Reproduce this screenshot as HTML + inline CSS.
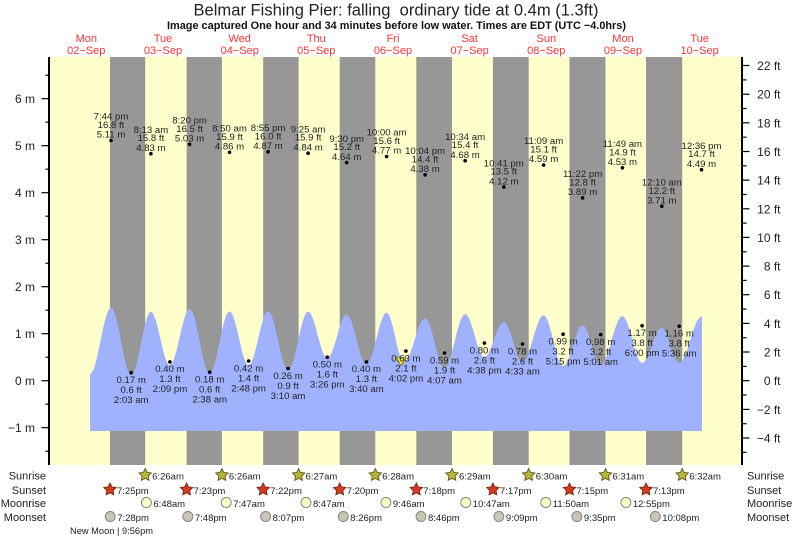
<!DOCTYPE html>
<html><head><meta charset="utf-8"><style>
html,body{margin:0;padding:0;background:#fff;}
svg{display:block;font-family:"Liberation Sans",Arial,sans-serif;}
</style></head><body>
<svg width="793" height="539" viewBox="0 0 793 539" xmlns="http://www.w3.org/2000/svg">
<rect x="0" y="0" width="793" height="539" fill="#fff"/>
<!-- title -->
<text x="396" y="15.5" font-size="16.5" fill="#222" text-anchor="middle" textLength="405" lengthAdjust="spacingAndGlyphs">Belmar Fishing Pier: falling&#160; ordinary tide at 0.4m (1.3ft)</text>
<text x="396.5" y="29" font-size="11" font-weight="bold" fill="#111" text-anchor="middle" textLength="459" lengthAdjust="spacingAndGlyphs">Image captured One hour and 34 minutes before low water. Times are EDT (UTC −4.0hrs)</text>
<!-- day labels -->
<g font-size="11" fill="#ff3333" text-anchor="middle">
<text x="86.3" y="42">Mon</text><text x="86.3" y="54">02−Sep</text>
<text x="163" y="42">Tue</text><text x="163" y="54">03−Sep</text>
<text x="239.7" y="42">Wed</text><text x="239.7" y="54">04−Sep</text>
<text x="316.3" y="42">Thu</text><text x="316.3" y="54">05−Sep</text>
<text x="393" y="42">Fri</text><text x="393" y="54">06−Sep</text>
<text x="469.6" y="42">Sat</text><text x="469.6" y="54">07−Sep</text>
<text x="546.3" y="42">Sun</text><text x="546.3" y="54">08−Sep</text>
<text x="623" y="42">Mon</text><text x="623" y="54">09−Sep</text>
<text x="699.6" y="42">Tue</text><text x="699.6" y="54">10−Sep</text>
</g>
<!-- plot background -->
<rect x="49" y="57" width="693" height="408" fill="#ffffcc"/>
<g fill="#979797">
<rect x="110" y="57" width="35.2" height="408"/>
<rect x="186.6" y="57" width="35.3" height="408"/>
<rect x="263.2" y="57" width="35.4" height="408"/>
<rect x="339.7" y="57" width="35.6" height="408"/>
<rect x="416.3" y="57" width="35.7" height="408"/>
<rect x="492.9" y="57" width="35.8" height="408"/>
<rect x="569.5" y="57" width="36" height="408"/>
<rect x="646" y="57" width="36.2" height="408"/>
</g>
<!-- tide fill -->
<path fill="#a0b2fe" d="M90,431 L90,374
C97.6,374 103.4,307.9 111,307.9
C118.4,307.9 123.9,375 131.2,375
C138.4,375 143.7,311.9 150.9,311.9
C157.8,311.9 163,365 169.9,365
C177.1,365 182.4,309.1 189.6,309.1
C196.9,309.1 202.4,373 209.7,373
C216.9,373 222.3,311.5 229.5,311.5
C236.5,311.5 241.6,365 248.6,365
C255.7,365 261,311.4 268.1,311.4
C275.4,311.4 280.8,370 288.1,370
C295.4,370 300.8,311.8 308.1,311.8
C315.1,311.8 320.3,358 327.3,358
C334.4,358 339.6,314.6 346.7,314.6
C353.9,314.6 359.2,364 366.4,364
C373.8,364 379.3,312.8 386.6,312.8
C392.9,312.8 397.7,362 404,362
C411.7,362 417.4,318.4 425.1,318.4
C432.2,318.4 437.4,368 444.5,368
C452,368 457.6,314.1 465.1,314.1
C472.1,314.1 477.4,357 484.4,357
C491.5,357 496.7,322.1 503.8,322.1
C510.6,322.1 515.7,362 522.5,362
C530.2,362 535.9,315.4 543.6,315.4
C550.7,315.4 556,366 563.1,366
C570.2,366 575.5,325.4 582.6,325.4
C589.2,325.4 594.1,365 600.7,365
C608.6,365 614.5,316.2 622.4,316.2
C629.6,316.2 634.9,363 642.1,363
C649.3,363 654.6,328 661.8,328
C668.1,328 672.9,363 679.2,363
C687.3,363 693.4,316.8 701.5,316.8
L702,316.8 L702,431 Z"/>
<!-- current marker -->
<polygon points="396,357 406,358 401,366" fill="#f2e41c" stroke="#6a6a20" stroke-width="0.8"/>
<!-- axes -->
<g stroke="#000">
<line x1="49" y1="57" x2="49" y2="465" stroke-width="2"/>
<line x1="742" y1="57" x2="742" y2="465" stroke-width="2"/>
<g stroke-width="1.2">
<line x1="41.5" y1="98.7" x2="49" y2="98.7"/><line x1="41.5" y1="145.7" x2="49" y2="145.7"/>
<line x1="41.5" y1="192.7" x2="49" y2="192.7"/><line x1="41.5" y1="239.7" x2="49" y2="239.7"/>
<line x1="41.5" y1="286.7" x2="49" y2="286.7"/><line x1="41.5" y1="333.7" x2="49" y2="333.7"/>
<line x1="41.5" y1="380.7" x2="49" y2="380.7"/><line x1="41.5" y1="427.7" x2="49" y2="427.7"/>
<line x1="45.5" y1="75.2" x2="49" y2="75.2"/><line x1="45.5" y1="122.2" x2="49" y2="122.2"/>
<line x1="45.5" y1="169.2" x2="49" y2="169.2"/><line x1="45.5" y1="216.2" x2="49" y2="216.2"/>
<line x1="45.5" y1="263.2" x2="49" y2="263.2"/><line x1="45.5" y1="310.2" x2="49" y2="310.2"/>
<line x1="45.5" y1="357.2" x2="49" y2="357.2"/><line x1="45.5" y1="404.2" x2="49" y2="404.2"/>
<line x1="45.5" y1="451.2" x2="49" y2="451.2"/>
<line x1="742" y1="65.5" x2="749.5" y2="65.5"/><line x1="742" y1="94.2" x2="749.5" y2="94.2"/>
<line x1="742" y1="122.8" x2="749.5" y2="122.8"/><line x1="742" y1="151.5" x2="749.5" y2="151.5"/>
<line x1="742" y1="180.1" x2="749.5" y2="180.1"/><line x1="742" y1="208.8" x2="749.5" y2="208.8"/>
<line x1="742" y1="237.4" x2="749.5" y2="237.4"/><line x1="742" y1="266.1" x2="749.5" y2="266.1"/>
<line x1="742" y1="294.7" x2="749.5" y2="294.7"/><line x1="742" y1="323.4" x2="749.5" y2="323.4"/>
<line x1="742" y1="352" x2="749.5" y2="352"/><line x1="742" y1="380.7" x2="749.5" y2="380.7"/>
<line x1="742" y1="409.4" x2="749.5" y2="409.4"/><line x1="742" y1="438" x2="749.5" y2="438"/>
<line x1="742" y1="79.9" x2="746.5" y2="79.9"/><line x1="742" y1="108.5" x2="746.5" y2="108.5"/>
<line x1="742" y1="137.2" x2="746.5" y2="137.2"/><line x1="742" y1="165.8" x2="746.5" y2="165.8"/>
<line x1="742" y1="194.5" x2="746.5" y2="194.5"/><line x1="742" y1="223.1" x2="746.5" y2="223.1"/>
<line x1="742" y1="251.8" x2="746.5" y2="251.8"/><line x1="742" y1="280.4" x2="746.5" y2="280.4"/>
<line x1="742" y1="309.1" x2="746.5" y2="309.1"/><line x1="742" y1="337.7" x2="746.5" y2="337.7"/>
<line x1="742" y1="366.4" x2="746.5" y2="366.4"/><line x1="742" y1="395" x2="746.5" y2="395"/>
<line x1="742" y1="423.7" x2="746.5" y2="423.7"/><line x1="742" y1="452.3" x2="746.5" y2="452.3"/>
</g>
</g>
<g font-size="12" fill="#222" text-anchor="end">
<text x="35" y="103">6 m</text><text x="35" y="150">5 m</text><text x="35" y="197">4 m</text>
<text x="35" y="244">3 m</text><text x="35" y="291">2 m</text><text x="35" y="338">1 m</text>
<text x="35" y="385">0 m</text><text x="35" y="432">−1 m</text>
<text x="780.5" y="70">22 ft</text><text x="780.5" y="98.7">20 ft</text><text x="780.5" y="127.3">18 ft</text>
<text x="780.5" y="156">16 ft</text><text x="780.5" y="184.6">14 ft</text><text x="780.5" y="213.3">12 ft</text>
<text x="780.5" y="241.9">10 ft</text><text x="780.5" y="270.6">8 ft</text><text x="780.5" y="299.2">6 ft</text>
<text x="780.5" y="327.9">4 ft</text><text x="780.5" y="356.5">2 ft</text><text x="780.5" y="385.2">0 ft</text>
<text x="780.5" y="413.9">−2 ft</text><text x="780.5" y="442.5">−4 ft</text>
</g>
<!-- high tide dots and labels -->
<g fill="#000">
<circle cx="111" cy="140.5" r="1.8"/><circle cx="150.9" cy="153.7" r="1.8"/>
<circle cx="189.6" cy="144.3" r="1.8"/><circle cx="229.5" cy="152.3" r="1.8"/>
<circle cx="268.1" cy="151.8" r="1.8"/><circle cx="308.1" cy="153.2" r="1.8"/>
<circle cx="346.7" cy="162.6" r="1.8"/><circle cx="386.6" cy="156.5" r="1.8"/>
<circle cx="425.1" cy="174.8" r="1.8"/><circle cx="465.1" cy="160.7" r="1.8"/>
<circle cx="503.8" cy="187.1" r="1.8"/><circle cx="543.6" cy="165" r="1.8"/>
<circle cx="582.6" cy="197.9" r="1.8"/><circle cx="622.4" cy="167.8" r="1.8"/>
<circle cx="661.8" cy="206.3" r="1.8"/><circle cx="701.5" cy="169.7" r="1.8"/>
<circle cx="131.2" cy="372.7" r="1.8"/><circle cx="169.9" cy="361.9" r="1.8"/>
<circle cx="209.7" cy="372.2" r="1.8"/><circle cx="248.6" cy="361" r="1.8"/>
<circle cx="288.1" cy="368.5" r="1.8"/><circle cx="327.3" cy="357.2" r="1.8"/>
<circle cx="366.4" cy="361.9" r="1.8"/><circle cx="405.9" cy="351.1" r="1.8"/>
<circle cx="444.5" cy="353" r="1.8"/><circle cx="484.4" cy="343.1" r="1.8"/>
<circle cx="522.5" cy="344" r="1.8"/><circle cx="563.1" cy="334.2" r="1.8"/>
<circle cx="600.7" cy="334.6" r="1.8"/><circle cx="642.1" cy="325.7" r="1.8"/>
<circle cx="679.2" cy="326.2" r="1.8"/>
</g>
<g font-size="9.6" fill="#222" text-anchor="middle">
<text x="111" y="119.7">7:44 pm</text><text x="111" y="128">16.8 ft</text><text x="111" y="137.7">5.11 m</text>
<text x="150.9" y="132.9">8:13 am</text><text x="150.9" y="141.2">15.8 ft</text><text x="150.9" y="150.9">4.83 m</text>
<text x="189.6" y="123.5">8:20 pm</text><text x="189.6" y="131.8">16.5 ft</text><text x="189.6" y="141.5">5.03 m</text>
<text x="229.5" y="131.5">8:50 am</text><text x="229.5" y="139.8">15.9 ft</text><text x="229.5" y="149.5">4.86 m</text>
<text x="268.1" y="131">8:55 pm</text><text x="268.1" y="139.3">16.0 ft</text><text x="268.1" y="149">4.87 m</text>
<text x="308.1" y="132.4">9:25 am</text><text x="308.1" y="140.7">15.9 ft</text><text x="308.1" y="150.4">4.84 m</text>
<text x="346.7" y="141.8">9:30 pm</text><text x="346.7" y="150.1">15.2 ft</text><text x="346.7" y="159.8">4.64 m</text>
<text x="386.6" y="135.7">10:00 am</text><text x="386.6" y="144">15.6 ft</text><text x="386.6" y="153.7">4.77 m</text>
<text x="425.1" y="154">10:04 pm</text><text x="425.1" y="162.3">14.4 ft</text><text x="425.1" y="172">4.38 m</text>
<text x="465.1" y="139.9">10:34 am</text><text x="465.1" y="148.2">15.4 ft</text><text x="465.1" y="157.9">4.68 m</text>
<text x="503.8" y="166.3">10:41 pm</text><text x="503.8" y="174.6">13.5 ft</text><text x="503.8" y="184.3">4.12 m</text>
<text x="543.6" y="144.2">11:09 am</text><text x="543.6" y="152.5">15.1 ft</text><text x="543.6" y="162.2">4.59 m</text>
<text x="582.6" y="177.1">11:22 pm</text><text x="582.6" y="185.4">12.8 ft</text><text x="582.6" y="195.1">3.89 m</text>
<text x="622.4" y="147">11:49 am</text><text x="622.4" y="155.3">14.9 ft</text><text x="622.4" y="165">4.53 m</text>
<text x="661.8" y="185.5">12:10 am</text><text x="661.8" y="193.8">12.2 ft</text><text x="661.8" y="203.5">3.71 m</text>
<text x="701.5" y="148.9">12:36 pm</text><text x="701.5" y="157.2">14.7 ft</text><text x="701.5" y="166.9">4.49 m</text>

<text x="131.2" y="383">0.17 m</text><text x="131.2" y="393">0.6 ft</text><text x="131.2" y="403">2:03 am</text>
<text x="169.9" y="372.2">0.40 m</text><text x="169.9" y="382.2">1.3 ft</text><text x="169.9" y="392.2">2:09 pm</text>
<text x="209.7" y="382.5">0.18 m</text><text x="209.7" y="392.5">0.6 ft</text><text x="209.7" y="402.5">2:38 am</text>
<text x="248.6" y="371.3">0.42 m</text><text x="248.6" y="381.3">1.4 ft</text><text x="248.6" y="391.3">2:48 pm</text>
<text x="288.1" y="378.8">0.26 m</text><text x="288.1" y="388.8">0.9 ft</text><text x="288.1" y="398.8">3:10 am</text>
<text x="327.3" y="367.5">0.50 m</text><text x="327.3" y="377.5">1.6 ft</text><text x="327.3" y="387.5">3:26 pm</text>
<text x="366.4" y="372.2">0.40 m</text><text x="366.4" y="382.2">1.3 ft</text><text x="366.4" y="392.2">3:40 am</text>
<text x="405.9" y="361.4">0.63 m</text><text x="405.9" y="371.4">2.1 ft</text><text x="405.9" y="381.4">4:02 pm</text>
<text x="444.5" y="363.3">0.59 m</text><text x="444.5" y="373.3">1.9 ft</text><text x="444.5" y="383.3">4:07 am</text>
<text x="484.4" y="353.4">0.80 m</text><text x="484.4" y="363.4">2.6 ft</text><text x="484.4" y="373.4">4:38 pm</text>
<text x="522.5" y="354.3">0.78 m</text><text x="522.5" y="364.3">2.6 ft</text><text x="522.5" y="374.3">4:33 am</text>
<text x="563.1" y="344.5">0.99 m</text><text x="563.1" y="354.5">3.2 ft</text><text x="563.1" y="364.5">5:15 pm</text>
<text x="600.7" y="344.9">0.98 m</text><text x="600.7" y="354.9">3.2 ft</text><text x="600.7" y="364.9">5:01 am</text>
<text x="642.1" y="336">1.17 m</text><text x="642.1" y="346">3.8 ft</text><text x="642.1" y="356">6:00 pm</text>
<text x="679.2" y="336.5">1.16 m</text><text x="679.2" y="346.5">3.8 ft</text><text x="679.2" y="356.5">5:36 am</text>
</g>
<!-- bottom rows labels -->
<g font-size="11" fill="#222">
<g text-anchor="end">
<text x="46" y="479.5">Sunrise</text><text x="46" y="494">Sunset</text>
<text x="46" y="507">Moonrise</text><text x="46" y="521">Moonset</text>
</g>
<text x="747" y="479.5">Sunrise</text><text x="747" y="494">Sunset</text>
<text x="747" y="507">Moonrise</text><text x="747" y="521">Moonset</text>
</g>
<!-- sunrise stars -->
<g fill="#b8b43a" stroke="#5e5c1c" stroke-width="0.9">
<polygon transform="translate(145.2,475)" points="0,-6.5 1.9,-2.6 6.18,-2.01 3.1,1 3.82,5.26 0,3.3 -3.82,5.26 -3.1,1 -6.18,-2.01 -1.9,-2.6"/>
<polygon transform="translate(221.9,475)" points="0,-6.5 1.9,-2.6 6.18,-2.01 3.1,1 3.82,5.26 0,3.3 -3.82,5.26 -3.1,1 -6.18,-2.01 -1.9,-2.6"/>
<polygon transform="translate(298.6,475)" points="0,-6.5 1.9,-2.6 6.18,-2.01 3.1,1 3.82,5.26 0,3.3 -3.82,5.26 -3.1,1 -6.18,-2.01 -1.9,-2.6"/>
<polygon transform="translate(375.3,475)" points="0,-6.5 1.9,-2.6 6.18,-2.01 3.1,1 3.82,5.26 0,3.3 -3.82,5.26 -3.1,1 -6.18,-2.01 -1.9,-2.6"/>
<polygon transform="translate(452,475)" points="0,-6.5 1.9,-2.6 6.18,-2.01 3.1,1 3.82,5.26 0,3.3 -3.82,5.26 -3.1,1 -6.18,-2.01 -1.9,-2.6"/>
<polygon transform="translate(528.7,475)" points="0,-6.5 1.9,-2.6 6.18,-2.01 3.1,1 3.82,5.26 0,3.3 -3.82,5.26 -3.1,1 -6.18,-2.01 -1.9,-2.6"/>
<polygon transform="translate(605.5,475)" points="0,-6.5 1.9,-2.6 6.18,-2.01 3.1,1 3.82,5.26 0,3.3 -3.82,5.26 -3.1,1 -6.18,-2.01 -1.9,-2.6"/>
<polygon transform="translate(682.2,475)" points="0,-6.5 1.9,-2.6 6.18,-2.01 3.1,1 3.82,5.26 0,3.3 -3.82,5.26 -3.1,1 -6.18,-2.01 -1.9,-2.6"/>
</g>
<!-- sunset stars -->
<g fill="#d43b1e" stroke="#7a2412" stroke-width="0.9">
<polygon transform="translate(110,489.5)" points="0,-6.5 1.9,-2.6 6.18,-2.01 3.1,1 3.82,5.26 0,3.3 -3.82,5.26 -3.1,1 -6.18,-2.01 -1.9,-2.6"/>
<polygon transform="translate(186.6,489.5)" points="0,-6.5 1.9,-2.6 6.18,-2.01 3.1,1 3.82,5.26 0,3.3 -3.82,5.26 -3.1,1 -6.18,-2.01 -1.9,-2.6"/>
<polygon transform="translate(263.2,489.5)" points="0,-6.5 1.9,-2.6 6.18,-2.01 3.1,1 3.82,5.26 0,3.3 -3.82,5.26 -3.1,1 -6.18,-2.01 -1.9,-2.6"/>
<polygon transform="translate(339.7,489.5)" points="0,-6.5 1.9,-2.6 6.18,-2.01 3.1,1 3.82,5.26 0,3.3 -3.82,5.26 -3.1,1 -6.18,-2.01 -1.9,-2.6"/>
<polygon transform="translate(416.3,489.5)" points="0,-6.5 1.9,-2.6 6.18,-2.01 3.1,1 3.82,5.26 0,3.3 -3.82,5.26 -3.1,1 -6.18,-2.01 -1.9,-2.6"/>
<polygon transform="translate(492.9,489.5)" points="0,-6.5 1.9,-2.6 6.18,-2.01 3.1,1 3.82,5.26 0,3.3 -3.82,5.26 -3.1,1 -6.18,-2.01 -1.9,-2.6"/>
<polygon transform="translate(569.5,489.5)" points="0,-6.5 1.9,-2.6 6.18,-2.01 3.1,1 3.82,5.26 0,3.3 -3.82,5.26 -3.1,1 -6.18,-2.01 -1.9,-2.6"/>
<polygon transform="translate(646,489.5)" points="0,-6.5 1.9,-2.6 6.18,-2.01 3.1,1 3.82,5.26 0,3.3 -3.82,5.26 -3.1,1 -6.18,-2.01 -1.9,-2.6"/>
</g>
<!-- moonrise -->
<g fill="#ffffc8" stroke="#808080" stroke-width="0.9">
<circle cx="146.4" cy="502.5" r="5"/><circle cx="226.2" cy="502.5" r="5"/>
<circle cx="306" cy="502.5" r="5"/><circle cx="385.9" cy="502.5" r="5"/>
<circle cx="465.8" cy="502.5" r="5"/><circle cx="545.8" cy="502.5" r="5"/>
<circle cx="625.9" cy="502.5" r="5"/>
</g>
<!-- moonset -->
<g fill="#c9c6b8" stroke="#808080" stroke-width="0.9">
<circle cx="110.2" cy="516.5" r="5"/><circle cx="187.9" cy="516.5" r="5"/>
<circle cx="265.6" cy="516.5" r="5"/><circle cx="343.3" cy="516.5" r="5"/>
<circle cx="421" cy="516.5" r="5"/><circle cx="498.9" cy="516.5" r="5"/>
<circle cx="576.9" cy="516.5" r="5"/><circle cx="655.3" cy="516.5" r="5"/>
</g>
<g font-size="9.5" fill="#222">
<text x="152.2" y="479.5">6:26am</text><text x="228.9" y="479.5">6:26am</text>
<text x="305.6" y="479.5">6:27am</text><text x="382.3" y="479.5">6:28am</text>
<text x="459" y="479.5">6:29am</text><text x="535.7" y="479.5">6:30am</text>
<text x="612.5" y="479.5">6:31am</text><text x="689.2" y="479.5">6:32am</text>
<text x="117" y="494">7:25pm</text><text x="193.6" y="494">7:23pm</text>
<text x="270.2" y="494">7:22pm</text><text x="346.7" y="494">7:20pm</text>
<text x="423.3" y="494">7:18pm</text><text x="499.9" y="494">7:17pm</text>
<text x="576.5" y="494">7:15pm</text><text x="653" y="494">7:13pm</text>
<text x="153.4" y="507">6:48am</text><text x="233.2" y="507">7:47am</text>
<text x="313" y="507">8:47am</text><text x="392.9" y="507">9:46am</text>
<text x="472.8" y="507">10:47am</text><text x="552.8" y="507">11:50am</text>
<text x="632.9" y="507">12:55pm</text>
<text x="117.2" y="521">7:28pm</text><text x="194.9" y="521">7:48pm</text>
<text x="272.6" y="521">8:07pm</text><text x="350.3" y="521">8:26pm</text>
<text x="428" y="521">8:46pm</text><text x="505.9" y="521">9:09pm</text>
<text x="583.9" y="521">9:35pm</text><text x="662.3" y="521">10:08pm</text>
</g>
<text x="70" y="534" font-size="9.3" fill="#222" textLength="83" lengthAdjust="spacingAndGlyphs">New Moon | 9:56pm</text>
</svg>
</body></html>
